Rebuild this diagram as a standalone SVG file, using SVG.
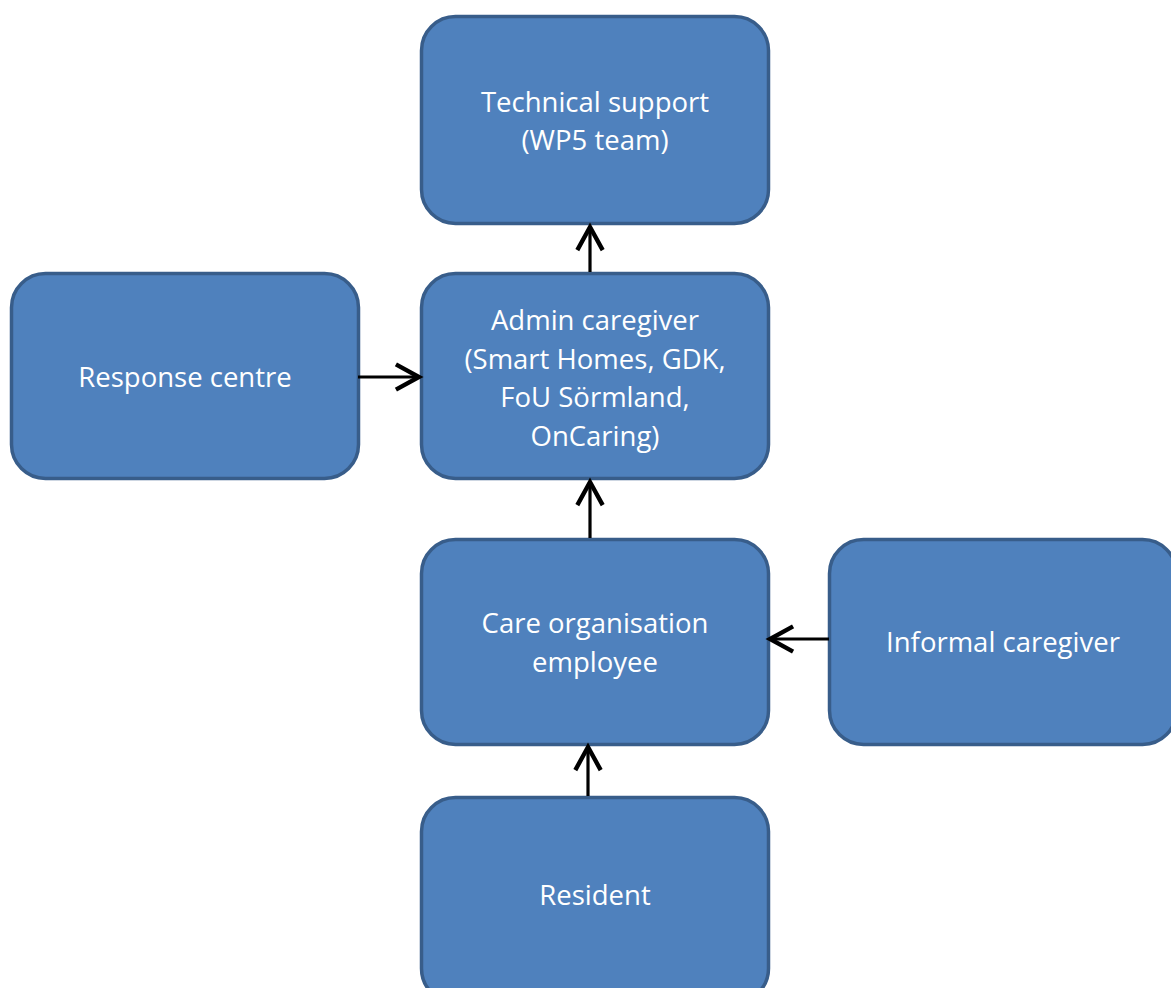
<svg xmlns="http://www.w3.org/2000/svg" width="1171" height="988" viewBox="0 0 1171 988">
<style>
.box{fill:#4F81BD;stroke:#385D8A;stroke-width:3.5}
.lbl{font-family:"Open Sans","DejaVu Sans",sans-serif;font-size:27.5px;fill:#FFFFFF;text-anchor:middle}
.conn{stroke:#000;stroke-width:3.2;fill:none;marker-end:url(#arr)}
</style>
<defs>
<marker id="arr" markerUnits="userSpaceOnUse" markerWidth="30" markerHeight="30" viewBox="-22 -13 26 26" refX="0" refY="0" orient="auto">
<path d="M-20,-11 L0,0 L-20,11" fill="none" stroke="#000" stroke-width="3.8"/>
</marker>
</defs>
<rect width="1171" height="988" fill="#FFFFFF"/>
<g id="technical-support">
<rect class="box" x="421.5" y="16.5" width="347" height="207" rx="34"/>
<text class="lbl" x="595" y="112">Technical support</text>
<text class="lbl" x="595" y="150">(WP5 team)</text>
</g>
<g id="response-centre">
<rect class="box" x="11.5" y="273.5" width="347" height="205" rx="34"/>
<text class="lbl" x="185" y="387">Response centre</text>
</g>
<g id="admin-caregiver">
<rect class="box" x="421.5" y="273.5" width="347" height="205" rx="34"/>
<text class="lbl" x="595" y="330">Admin caregiver</text>
<text class="lbl" x="595" y="369">(Smart Homes, GDK,</text>
<text class="lbl" x="595" y="407">FoU Sörmland,</text>
<text class="lbl" x="595" y="446">OnCaring)</text>
</g>
<g id="care-organisation-employee">
<rect class="box" x="421.5" y="539.5" width="347" height="205" rx="34"/>
<text class="lbl" x="595" y="633">Care organisation</text>
<text class="lbl" x="595" y="672">employee</text>
</g>
<g id="informal-caregiver">
<rect class="box" x="829.5" y="539.5" width="347" height="205" rx="34"/>
<text class="lbl" x="1003" y="652">Informal caregiver</text>
</g>
<g id="resident">
<rect class="box" x="421.5" y="797.5" width="347" height="205" rx="34"/>
<text class="lbl" x="595" y="905">Resident</text>
</g>
<g id="connectors">
<line class="conn" x1="590" y1="272" x2="590" y2="227"/>
<line class="conn" x1="358" y1="377" x2="419" y2="377"/>
<line class="conn" x1="590" y1="538" x2="590" y2="482"/>
<line class="conn" x1="829" y1="639" x2="770" y2="639"/>
<line class="conn" x1="588" y1="796" x2="588" y2="747"/>
</g>
</svg>
